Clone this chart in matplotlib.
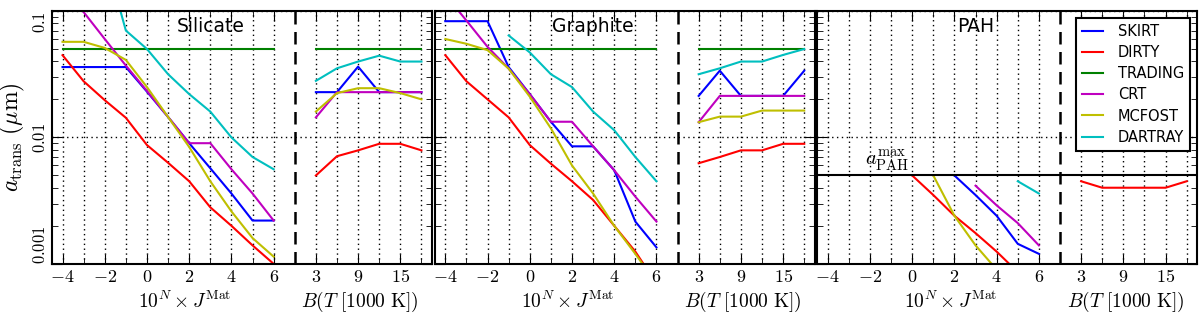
import numpy as np
import matplotlib
matplotlib.use('Agg')
import matplotlib.pyplot as plt
from matplotlib.ticker import FixedLocator, NullFormatter

plt.rcParams['mathtext.fontset'] = 'cm'
plt.rcParams['font.family'] = 'DejaVu Sans'

# x values: radiation field scaling N and blackbody temperature (1000 K)
N = [-4, -3, -2, -1, 0, 1, 2, 3, 4, 5, 6]
T = [3, 6, 9, 12, 15, 18]

codes = ['SKIRT', 'DIRTY', 'TRADING', 'CRT', 'MCFOST', 'DARTRAY']
colors = ['b', 'r', 'g', 'm', 'y', 'c']
nan = np.nan

# Silicate
sil_N = {
    'SKIRT':   [0.036, 0.036, 0.036, 0.036, 0.023, 0.0145, 0.009, 0.0057, 0.0036, 0.0022, 0.0022],
    'DIRTY':   [0.0447, 0.0278, 0.0197, 0.0143, 0.0087, 0.0063, 0.0045, 0.0028, 0.002, 0.0014, 0.001],
    'TRADING': [0.05] * 11,
    'CRT':     [0.16, 0.098, 0.060, 0.037, 0.0233, 0.0145, 0.009, 0.009, 0.0056, 0.0036, 0.0022],
    'MCFOST':  [0.057, 0.057, 0.051, 0.041, 0.025, 0.0145, 0.0084, 0.0045, 0.0026, 0.0016, 0.00114],
    'DARTRAY': [nan, nan, 0.28, 0.070, 0.05, 0.0316, 0.022, 0.016, 0.010, 0.007, 0.0056],
}
sil_T = {
    'SKIRT':   [0.0228, 0.0228, 0.0363, 0.0228, 0.0228, 0.0228],
    'DIRTY':   [0.005, 0.0071, 0.0079, 0.0089, 0.0089, 0.0079],
    'TRADING': [0.05] * 6,
    'CRT':     [0.0144, 0.0228, 0.0228, 0.0228, 0.0228, 0.0228],
    'MCFOST':  [0.016, 0.0224, 0.0245, 0.0245, 0.0224, 0.020],
    'DARTRAY': [0.028, 0.0352, 0.0398, 0.0443, 0.0398, 0.0398],
}

# Graphite
gra_N = {
    'SKIRT':   [0.083, 0.083, 0.083, 0.036, 0.022, 0.0133, 0.0085, 0.0085, 0.0055, 0.00216, 0.00135],
    'DIRTY':   [0.0447, 0.0278, 0.020, 0.0144, 0.0087, 0.0062, 0.0045, 0.0032, 0.002, 0.00125, 0.0007],
    'TRADING': [0.05] * 11,
    'CRT':     [0.134, 0.084, 0.052, 0.035, 0.022, 0.0133, 0.0133, 0.0085, 0.0055, 0.0034, 0.00216],
    'MCFOST':  [0.060, 0.055, 0.049, 0.035, 0.021, 0.0118, 0.006, 0.0036, 0.002, 0.0012, 0.0007],
    'DARTRAY': [nan, nan, nan, 0.064, 0.047, 0.0316, 0.025, 0.016, 0.0114, 0.007, 0.0045],
}
gra_T = {
    'SKIRT':   [0.0213, 0.0337, 0.0213, 0.0213, 0.0213, 0.0337],
    'DIRTY':   [0.00625, 0.0070, 0.0079, 0.0079, 0.0089, 0.0089],
    'TRADING': [0.05] * 6,
    'CRT':     [0.0132, 0.0213, 0.0213, 0.0213, 0.0213, 0.0213],
    'MCFOST':  [0.0132, 0.0146, 0.0146, 0.0163, 0.0163, 0.0163],
    'DARTRAY': [0.0316, 0.0352, 0.0398, 0.0398, 0.0449, 0.05],
}

# PAH
pah_N = {
    'SKIRT':   [nan, nan, nan, nan, nan, nan, 0.005, 0.0035, 0.0024, 0.00144, 0.0012],
    'DIRTY':   [nan, nan, nan, nan, 0.005, 0.0035, 0.0024, 0.00175, 0.00125, 0.00086, nan],
    'TRADING': [nan] * 11,
    'CRT':     [nan, nan, nan, nan, nan, nan, nan, 0.00415, 0.0029, 0.0021, 0.0014],
    'MCFOST':  [nan, nan, nan, nan, nan, 0.005, 0.0024, 0.0014, 0.0009, nan, nan],
    'DARTRAY': [nan, nan, nan, nan, nan, nan, nan, nan, nan, 0.0045, 0.0036],
}
pah_T = {
    'SKIRT':   [nan] * 6,
    'DIRTY':   [0.0045, 0.004, 0.004, 0.004, 0.004, 0.0045],
    'TRADING': [nan] * 6,
    'CRT':     [nan] * 6,
    'MCFOST':  [nan] * 6,
    'DARTRAY': [nan] * 6,
}
a_pah_max = 0.005

panels = [('Silicate', sil_N, sil_T), ('Graphite', gra_N, gra_T), ('PAH', pah_N, pah_T)]

# T axis is drawn to the right of the N axis: 3 -> 8, 18 -> 13
xT = [8 + (t - 3) / 3.0 for t in T]

fig = plt.figure(figsize=(12, 3.13), dpi=100)
lefts = [0.0433, 0.3623, 0.681]
width = 0.3167
bottom, height = 0.157, 0.808
dots = (0, (1, 2.5))

for i, (name, dN, dT) in enumerate(panels):
    ax = fig.add_axes([lefts[i], bottom, width, height])
    for code, col in zip(codes, colors):
        ax.plot(N, dN[code], color=col, lw=1.5, label=code)
        ax.plot(xT, dT[code], color=col, lw=1.5)
    ax.axvline(7, color='k', ls=(0, (5, 3)), lw=1.8, zorder=3)
    ax.set_yscale('log')
    ax.set_ylim(0.001, 0.1)
    ax.set_xlim(-4.5, 13.5)

    ax.xaxis.set_major_locator(FixedLocator([-4, -2, 0, 2, 4, 6, 8, 10, 12]))
    ax.xaxis.set_minor_locator(FixedLocator([-3, -1, 1, 3, 5, 9, 11, 13]))
    ax.set_xticklabels(['$-4$', '$-2$', '$0$', '$2$', '$4$', '$6$', '$3$', '$9$', '$15$'], fontsize=13)
    ax.grid(True, which='both', axis='x', color='k', ls=dots, lw=1.0)
    ax.grid(True, which='major', axis='y', color='k', ls=dots, lw=1.0)
    ax.tick_params(which='both', direction='in', top=True, right=True)
    ax.tick_params(which='major', length=7)
    ax.tick_params(which='minor', length=4)
    ax.tick_params(axis='x', pad=3)
    ax.tick_params(axis='y', pad=2)
    for s in ax.spines.values():
        s.set_linewidth(1.5)

    if i == 0:
        ax.yaxis.set_major_locator(FixedLocator([0.001, 0.01, 0.1]))
        labs = ax.set_yticklabels(['$0.001$', '$0.01$', '$0.1$'], fontsize=12, rotation=90)
        for lab, va in zip(labs, ['bottom', 'center', 'top']):
            lab.set_va(va)
        ax.set_ylabel(r'$a_{\rm trans}\ (\mu{\rm m})$', fontsize=17, labelpad=3)
    else:
        ax.yaxis.set_minor_formatter(NullFormatter())
        ax.set_yticklabels([])

    ax.text(3, 0.075, name, fontsize=13.5, ha='center', va='center')
    ax.text(1.8, -0.15, r'$10^N\times J^{\rm Mat}$', fontsize=14, ha='center', va='center',
            transform=ax.get_xaxis_transform())
    ax.text(10.1, -0.15, r'$B(T\ [1000\ {\rm K}])$', fontsize=14, ha='center', va='center',
            transform=ax.get_xaxis_transform())

    if name == 'PAH':
        ax.axhline(a_pah_max, color='k', lw=1.5)
        ax.text(-1.2, 0.0066, r'$a_{\rm PAH}^{\rm max}$', fontsize=15, ha='center', va='center')
        leg = ax.legend(loc='upper right', fontsize=10.5, handlelength=1.45, handletextpad=1.0,
                        borderaxespad=0.5, borderpad=0.4, fancybox=False, labelspacing=0.42)
        leg.get_frame().set_edgecolor('k')
        leg.get_frame().set_linewidth(1.5)
        leg.get_frame().set_alpha(1)

fig.savefig('out.png', dpi=100)
